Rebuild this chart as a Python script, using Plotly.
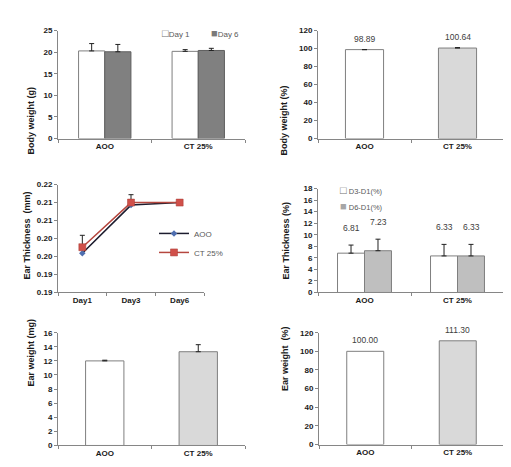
import plotly.graph_objects as go

# ---------------- data ----------------
groups = ["AOO", "CT 25%"]

bw_day1 = [20.3, 20.2]
bw_day1_err = [1.7, 0.4]
bw_day6 = [20.1, 20.4]
bw_day6_err = [1.7, 0.5]

bw_pct = [98.89, 100.64]
bw_pct_err = [0.0, 0.5]

days = ["Day1", "Day3", "Day6"]
et_aoo = [0.2009, 0.2143, 0.2150]
et_ct = [0.2026, 0.2150, 0.2150]
et_ct_err = [0.0033, 0.0022, 0.0]
et_ticks = [0.19, 0.195, 0.20, 0.205, 0.21, 0.215, 0.22]
et_ticktext = ["0.19", "0.19", "0.20", "0.20", "0.21", "0.21", "0.22"]

etp_d3 = [6.81, 6.33]
etp_d3_err = [1.4, 2.0]
etp_d6 = [7.23, 6.33]
etp_d6_err = [2.0, 2.0]

ew_mg = [12.0, 13.3]
ew_mg_err = [0.1, 1.0]

ew_pct = [100.00, 111.30]

# ---------------- layout helpers ----------------
W, H = 511, 467
def xd(a, b):
    return [a / W, b / W]
def yd(top, bottom):
    return [1 - bottom / H, 1 - top / H]

AX = "#868686"
TXT = "#1a1a1a"
FONT = "Liberation Sans"
tickfont = dict(family=FONT, size=8, color=TXT, weight="bold")

fig = go.Figure()

def err(arr, color="#222"):
    return dict(type="data", array=arr, arrayminus=[0] * len(arr), symmetric=False,
                color=color, thickness=1, width=2.5)

# Panel 1: body weight (g)
fig.add_trace(go.Bar(x=groups, y=bw_day1, name="Day 1", width=0.28, offset=-0.28, showlegend=False,
                     marker=dict(color="white", line=dict(color="#7f7f7f", width=1)),
                     error_y=err(bw_day1_err), xaxis="x", yaxis="y"))
fig.add_trace(go.Bar(x=groups, y=bw_day6, name="Day 6", width=0.28, offset=0.0, showlegend=False,
                     marker=dict(color="#808080", line=dict(color="#5f5f5f", width=1)),
                     error_y=err(bw_day6_err), xaxis="x", yaxis="y"))

# Panel 2: body weight (%)
fig.add_trace(go.Bar(x=groups, y=bw_pct, width=0.41, showlegend=False,
                     marker=dict(color=["white", "#d9d9d9"], line=dict(color="#7f7f7f", width=1)),
                     error_y=err(bw_pct_err), xaxis="x2", yaxis="y2"))

# Panel 3: ear thickness (mm)
fig.add_trace(go.Scatter(x=days, y=et_aoo, name="AOO", mode="lines+markers",
                         line=dict(color="#1c1c2e", width=1.5),
                         marker=dict(symbol="diamond", size=5, color="#4f6fb0"),
                         xaxis="x3", yaxis="y3", legend="legend2"))
fig.add_trace(go.Scatter(x=days, y=et_ct, name="CT 25%", mode="lines+markers",
                         line=dict(color="#b5473f", width=1.5),
                         marker=dict(symbol="square", size=7, color="#d0504a",
                                     line=dict(color="#a83a34", width=0.5)),
                         error_y=err(et_ct_err), xaxis="x3", yaxis="y3", legend="legend2"))

# Panel 4: ear thickness (%)
fig.add_trace(go.Bar(x=groups, y=etp_d3, name="D3-D1(%)", width=0.29, offset=-0.29, showlegend=False,
                     marker=dict(color="white", line=dict(color="#7f7f7f", width=1)),
                     error_y=err(etp_d3_err), xaxis="x4", yaxis="y4"))
fig.add_trace(go.Bar(x=groups, y=etp_d6, name="D6-D1(%)", width=0.29, offset=0.0, showlegend=False,
                     marker=dict(color="#bfbfbf", line=dict(color="#7f7f7f", width=1)),
                     error_y=err(etp_d6_err), xaxis="x4", yaxis="y4"))

# Panel 5: ear weight (mg)
fig.add_trace(go.Bar(x=groups, y=ew_mg, width=0.41, showlegend=False,
                     marker=dict(color=["white", "#d9d9d9"], line=dict(color="#7f7f7f", width=1)),
                     error_y=err(ew_mg_err), xaxis="x5", yaxis="y5"))

# Panel 6: ear weight (%)
fig.add_trace(go.Bar(x=groups, y=ew_pct, width=0.40, showlegend=False,
                     marker=dict(color=["white", "#d9d9d9"], line=dict(color="#7f7f7f", width=1)),
                     xaxis="x6", yaxis="y6"))

def xaxis(domain, anchor, rng=None):
    d = dict(domain=domain, anchor=anchor, showline=True, linecolor=AX, linewidth=1,
             ticks="outside", ticklen=3, tickcolor=AX, tickson="boundaries",
             tickfont=tickfont, showgrid=False, zeroline=False, fixedrange=True)
    if rng is not None:
        d["range"] = rng
    return d

def yaxis(domain, anchor, rng, dtick=None, tickvals=None, ticktext=None):
    d = dict(domain=domain, anchor=anchor, range=rng, showline=True, linecolor=AX, linewidth=1,
             ticks="outside", ticklen=3, tickcolor=AX, tickfont=tickfont, showgrid=False,
             zeroline=False, fixedrange=True)
    if dtick is not None:
        d.update(dtick=dtick, tick0=0)
    if tickvals is not None:
        d.update(tickmode="array", tickvals=tickvals, ticktext=ticktext)
    return d

legfont = dict(family=FONT, size=8, color="#595959")
layout = dict(
    width=W, height=H, margin=dict(l=0, r=0, t=0, b=0),
    paper_bgcolor="white", plot_bgcolor="white", barmode="overlay", showlegend=True,
    xaxis=xaxis(xd(50, 237), "y", [-0.5, 1.5]),
    yaxis=yaxis(yd(19, 129), "x", [0, 25], 5),
    xaxis2=xaxis(xd(310, 496), "y2", [-0.5, 1.5]),
    yaxis2=yaxis(yd(19, 129), "x2", [0, 120], 20),
    xaxis3=xaxis(xd(50, 196), "y3", [-0.5, 2.5]),
    yaxis3=yaxis(yd(176, 286), "x3", [0.19, 0.22], tickvals=et_ticks, ticktext=et_ticktext),
    xaxis4=xaxis(xd(310, 496), "y4", [-0.5, 1.5]),
    yaxis4=yaxis(yd(180, 286), "x4", [0, 18], 2),
    xaxis5=xaxis(xd(50, 237), "y5", [-0.5, 1.5]),
    yaxis5=yaxis(yd(327, 442), "x5", [0, 16], 2),
    xaxis6=xaxis(xd(311, 496), "y6", [-0.5, 1.5]),
    yaxis6=yaxis(yd(327, 441), "x6", [0, 120], 20),
    legend2=dict(orientation="v", x=146 / W, y=1 - 211 / H, yanchor="top", xanchor="left",
                 font=legfont, bgcolor="rgba(0,0,0,0)", tracegroupgap=12, itemwidth=30),
)
fig.update_layout(**layout)

# bar legends drawn as text entries (square glyph + label)
def legend_text(label, glyph, color, px, py, size=8):
    fig.add_annotation(text=f"<span style='font-size:11px;color:{color}'>{glyph}</span>{label}",
                       x=px / W, y=1 - py / H, xref="paper", yref="paper", showarrow=False,
                       xanchor="left", yanchor="middle",
                       font=dict(family=FONT, size=size, color="#595959"))

legend_text("Day 1", "□", "#6f6f6f", 152, 21)
legend_text("Day 6", "■", "#7a7a7a", 201, 21)
legend_text(" D3-D1(%)", "□", "#6f6f6f", 330, 182, 7.5)
legend_text(" D6-D1(%)", "■", "#a6a6a6", 330, 198, 7.5)

# y-axis titles
titles = [
    ("Body weight (g)", 16, 74),
    ("Body weight (%)", 276, 73),
    ("Ear Thickness  (mm)", 12, 228),
    ("Ear Thickness (%)", 278, 233),
    ("Ear weight (mg)", 16, 384),
    ("Ear weight  (%)", 277, 389),
]
for t, px, py in titles:
    fig.add_annotation(text=t, x=px / W, y=1 - py / H, xref="paper", yref="paper",
                       showarrow=False, textangle=-90,
                       font=dict(family=FONT, size=9, color=TXT, weight="bold"))

# data labels
lblfont = dict(family=FONT, size=8.5, color="#404040")
def labels(xref, yref, vals, tops, xoffs, ysh):
    for g, v, tp, xo in zip(groups, vals, tops, xoffs):
        fig.add_annotation(text=f"{v:.2f}", x=g, y=tp, xref=xref, yref=yref, xshift=xo,
                           showarrow=False, yanchor="bottom", yshift=ysh, font=lblfont)

labels("x2", "y2", bw_pct, [v + e for v, e in zip(bw_pct, bw_pct_err)], [0, 0], 4)
labels("x6", "y6", ew_pct, ew_pct, [0, 0], 4)
labels("x4", "y4", etp_d3, [v + e for v, e in zip(etp_d3, etp_d3_err)], [-13.5, -13.5], 10)
labels("x4", "y4", etp_d6, [v + e for v, e in zip(etp_d6, etp_d6_err)], [13.5, 13.5], 10)

fig.write_html("out.html")
